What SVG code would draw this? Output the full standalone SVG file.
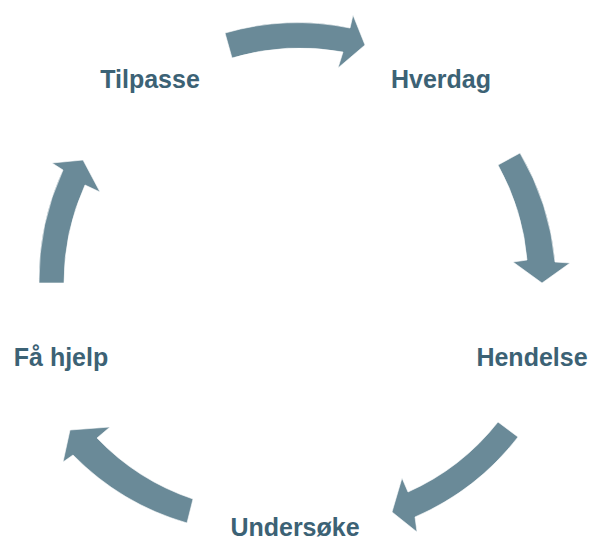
<svg xmlns="http://www.w3.org/2000/svg" width="593" height="542" viewBox="0 0 593 542">
  <style>
    .arrow { fill: #6a8a98; stroke: #ffffff; stroke-width: 1; stroke-opacity: 0.6; }
    .label { font-family: "Liberation Sans", Arial, sans-serif; font-weight: bold; font-size: 25px; fill: #3c6275; text-anchor: middle; }
  </style>
  <rect width="593" height="542" fill="#ffffff"/>

  <!-- curved arrows between the steps of the cycle -->
  <g id="connectors">
    <path class="arrow" d="M 225,33 A 261 261 0 0 1 350,28 L 353,15 L 365,45 L 338,68 L 343,52 A 237 237 0 0 0 232,58 Z"/>
    <path class="arrow" d="M 520,153 A 261 261 0 0 1 555,262 L 570,263 L 542,283 L 513,262 L 527,260 A 237 237 0 0 0 498,165 Z"/>
    <path class="arrow" d="M 518,437 A 261 261 0 0 1 415,517 L 417,532 L 392,512 L 402,478 L 408,492 A 237 237 0 0 0 498,422 Z"/>
    <path class="arrow" d="M 187,523 A 261 261 0 0 1 73,455 L 63,462 L 70,430 L 110,427 L 97,438 A 237 237 0 0 0 193,499 Z"/>
    <path class="arrow" d="M 39,283 A 261 261 0 0 1 63,170 L 52,163 L 83,160 L 100,192 L 85,185 A 237 237 0 0 0 64,283 Z"/>
  </g>

  <g id="node-hverdag"><text class="label" x="441" y="88">Hverdag</text></g>
  <g id="node-hendelse"><text class="label" x="532" y="366">Hendelse</text></g>
  <g id="node-undersoke"><text class="label" x="295" y="536">Undersøke</text></g>
  <g id="node-fa-hjelp"><text class="label" x="61" y="366">Få hjelp</text></g>
  <g id="node-tilpasse"><text class="label" x="150" y="88">Tilpasse</text></g>
</svg>
